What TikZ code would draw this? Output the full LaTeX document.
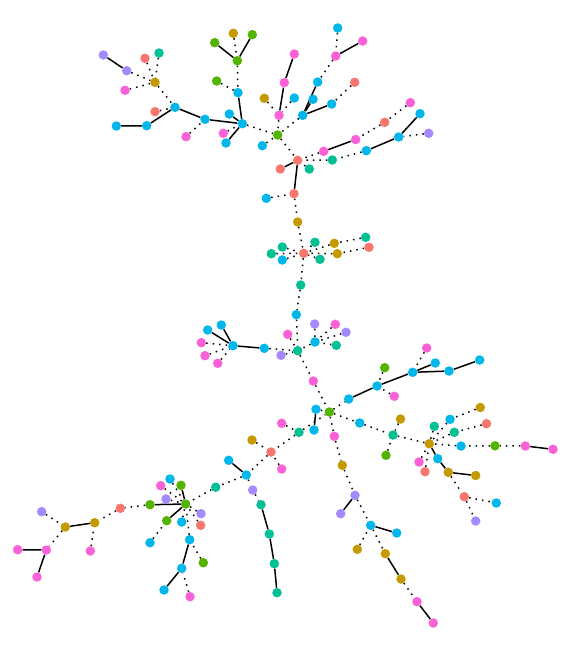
\documentclass[tikz,border=0pt]{standalone}
\usetikzlibrary{backgrounds}
\definecolor{salm}{HTML}{F8766D}
\definecolor{gold}{HTML}{C49A00}
\definecolor{gree}{HTML}{53B400}
\definecolor{teal}{HTML}{00C094}
\definecolor{blu}{HTML}{00B6EB}
\definecolor{purp}{HTML}{A58AFF}
\definecolor{pnk}{HTML}{FB61D7}
\tikzset{
  dot/.style={circle,inner sep=0pt,minimum size=9.5pt,draw=none},
  cSal/.style={dot,fill=salm},
  cGol/.style={dot,fill=gold},
  cGre/.style={dot,fill=gree},
  cTea/.style={dot,fill=teal},
  cBlu/.style={dot,fill=blu},
  cPur/.style={dot,fill=purp},
  cPin/.style={dot,fill=pnk},
  sol/.style={line width=1.5pt,black},
  dts/.style={line width=1.5pt,black,dash pattern=on 1.5pt off 5pt},
}
\begin{document}
\begin{tikzpicture}[x=1pt,y=-1pt]
\useasboundingbox (0,0) rectangle (573,645);
% top-left cluster
\node[cPur] (a1) at (103.3,55) {};
\node[cPur] (a2) at (126.7,70.7) {};
\node[cSal] (a3) at (145,58.3) {};
\node[cTea] (a4) at (159,53) {};
\node[cGol] (a5) at (155,82.3) {};
\node[cPin] (a6) at (125,90.3) {};
\node[cBlu] (a7) at (175,107.3) {};
\node[cSal] (a8) at (155,111.7) {};
\node[cBlu] (a9) at (146.7,125.7) {};
\node[cBlu] (a10) at (116.3,126) {};
\node[cBlu] (a11) at (205,119.3) {};
\node[cPin] (a12) at (186,136.7) {};
\node[cBlu] (a13) at (242.3,123.7) {};
\node[cBlu] (a14) at (229.3,114) {};
\node[cPin] (a15) at (223.3,133.3) {};
\node[cBlu] (a16) at (226,143) {};
\node[cBlu] (a17) at (238,92.7) {};
\node[cGre] (a18) at (216.7,81) {};
\node[cGre] (a19) at (237.3,60.7) {};
\node[cGre] (a20) at (214.7,42.7) {};
\node[cGre] (a21) at (252.3,34.7) {};
\node[cGol] (a22) at (233.3,33.3) {};
% top-middle
\node[cGre] (b1) at (277.7,135) {};
\node[cGol] (b2) at (264.3,98.3) {};
\node[cPin] (b3) at (279,115.3) {};
\node[cPin] (b4) at (284.3,82.7) {};
\node[cPin] (b5) at (294.3,54) {};
\node[cBlu] (b6) at (294.3,98) {};
\node[cBlu] (b7) at (262.3,145.7) {};
\node[cBlu] (b8) at (337.7,28) {};
\node[cPin] (b9) at (335.7,56) {};
\node[cPin] (b10) at (362.7,41) {};
\node[cBlu] (b11) at (317.7,82) {};
\node[cBlu] (b12) at (302.7,115.3) {};
\node[cBlu] (b13) at (313,99.3) {};
\node[cBlu] (b14) at (331.7,104) {};
\node[cSal] (b15) at (354.7,82.3) {};
% right arm top
\node[cSal] (c1) at (297.7,160.3) {};
\node[cPin] (c2) at (410.3,102.7) {};
\node[cSal] (c3) at (384.7,122.3) {};
\node[cPin] (c4) at (355.7,139.5) {};
\node[cPin] (c5) at (323.7,151.3) {};
\node[cBlu] (c6) at (420,113.7) {};
\node[cBlu] (c7) at (398.7,137) {};
\node[cPur] (c8) at (428.7,133.3) {};
\node[cBlu] (c9) at (366.3,150.7) {};
\node[cTea] (c10) at (332.3,160) {};
\node[cSal] (c11) at (280.3,169) {};
\node[cTea] (c12) at (309.3,169) {};
\node[cSal] (c13) at (294,193.7) {};
\node[cBlu] (c14) at (266.3,198.3) {};
% middle
\node[cGol] (d1) at (297.7,222) {};
\node[cSal] (d2) at (303.7,253.3) {};
\node[cTea] (d3) at (271.3,253.7) {};
\node[cTea] (d4) at (282.3,247) {};
\node[cBlu] (d5) at (282.3,260) {};
\node[cTea] (d6) at (315,242.3) {};
\node[cTea] (d7) at (320,259.3) {};
\node[cGol] (d8) at (334.3,243.3) {};
\node[cGol] (d9) at (337.3,253.7) {};
\node[cTea] (d10) at (365.7,237.3) {};
\node[cSal] (d11) at (369,247.3) {};
\node[cTea] (d12) at (300.7,285) {};
\node[cBlu] (e1) at (296.3,314.7) {};
\node[cTea] (e2) at (297.7,350.7) {};
\node[cPur] (e3) at (314.7,324) {};
\node[cBlu] (e4) at (315,342) {};
\node[cPin] (e5) at (335.3,324.3) {};
\node[cPur] (e6) at (346,332.3) {};
\node[cTea] (e7) at (336.3,345.3) {};
\node[cPin] (e8) at (287.7,334.3) {};
\node[cPur] (e9) at (281,355.3) {};
\node[cBlu] (e10) at (264.3,348.3) {};
\node[cBlu] (e11) at (233,345.7) {};
\node[cBlu] (e12) at (207.7,330) {};
\node[cBlu] (e13) at (221.3,325) {};
\node[cPin] (e14) at (201.3,342.7) {};
\node[cPin] (e15) at (205,355.7) {};
\node[cPin] (e16) at (217.7,363.3) {};
% lower centre
\node[cPin] (f1) at (313.3,381) {};
\node[cGre] (f2) at (329.3,412) {};
\node[cBlu] (f3) at (316,409.3) {};
\node[cBlu] (f4) at (314,430) {};
\node[cTea] (f5) at (299,432.3) {};
\node[cBlu] (f6) at (348.7,399) {};
\node[cBlu] (f7) at (377,386) {};
\node[cGre] (f8) at (384.7,367.7) {};
\node[cPin] (f9) at (394.3,396.3) {};
\node[cBlu] (f10) at (412.7,372.3) {};
\node[cPin] (f11) at (426.7,348) {};
\node[cBlu] (f12) at (435.3,363) {};
\node[cBlu] (f13) at (449,371) {};
\node[cBlu] (f14) at (479.7,360) {};
% lower right
\node[cBlu] (g1) at (359.7,423) {};
\node[cTea] (g2) at (393,435) {};
\node[cGol] (g3) at (400.5,419) {};
\node[cGre] (g4) at (386,455.3) {};
\node[cGol] (g5) at (429.3,443.7) {};
\node[cTea] (g6) at (434.3,426.3) {};
\node[cBlu] (g7) at (450,419.3) {};
\node[cGol] (g8) at (480.3,407.5) {};
\node[cTea] (g9) at (454.3,432.3) {};
\node[cSal] (g10) at (486.5,423.7) {};
\node[cBlu] (g11) at (461,446) {};
\node[cGre] (g12) at (495,445.8) {};
\node[cPin] (g13) at (525.3,446) {};
\node[cPin] (g14) at (553,449.3) {};
\node[cPin] (g15) at (419,462) {};
\node[cSal] (g16) at (425,471.7) {};
\node[cBlu] (g17) at (437.7,458.7) {};
\node[cGol] (g18) at (448.3,472.3) {};
\node[cGol] (g19) at (475.7,475.5) {};
\node[cSal] (g20) at (464.3,496.7) {};
\node[cBlu] (g21) at (496.3,503) {};
\node[cPur] (g22) at (475.7,521) {};
% lower middle branch
\node[cPin] (h1) at (334.3,436.3) {};
\node[cGol] (h2) at (342.3,465.3) {};
\node[cPur] (h3) at (355,495.3) {};
\node[cPur] (h4) at (340.7,513.7) {};
\node[cBlu] (h5) at (370.7,525.3) {};
\node[cBlu] (h6) at (396.7,533) {};
\node[cGol] (h7) at (357.3,549.3) {};
\node[cGol] (h8) at (385.3,553.7) {};
\node[cGol] (h9) at (401,579) {};
\node[cPin] (h10) at (417,601.7) {};
\node[cPin] (h11) at (433.3,623) {};
% lower left
\node[cPin] (i1) at (281.7,423.3) {};
\node[cSal] (i2) at (271,452) {};
\node[cGol] (i3) at (252,440) {};
\node[cPin] (i4) at (281.7,469) {};
\node[cBlu] (i5) at (246.3,475) {};
\node[cBlu] (i6) at (228.7,460.3) {};
\node[cPur] (i7) at (252.7,490) {};
\node[cTea] (i8) at (261,504.7) {};
\node[cTea] (i9) at (269.3,534) {};
\node[cTea] (i10) at (274.3,563.7) {};
\node[cTea] (i11) at (277,592.7) {};
\node[cTea] (i12) at (215.7,487.2) {};
\node[cGre] (j1) at (185.7,504) {};
\node[cGre] (j2) at (181,485.3) {};
\node[cBlu] (j3) at (170,479) {};
\node[cPin] (j4) at (160.7,485.7) {};
\node[cPur] (j5) at (166,499) {};
\node[cGre] (j6) at (150,504.7) {};
\node[cGre] (j7) at (166.7,520.7) {};
\node[cBlu] (j8) at (150,542.7) {};
\node[cBlu] (j9) at (181.7,522) {};
\node[cPur] (j10) at (201,513.7) {};
\node[cSal] (j11) at (200.7,525.3) {};
\node[cBlu] (j12) at (189.7,539.7) {};
\node[cGre] (j13) at (203.3,562.7) {};
\node[cBlu] (j14) at (181.7,568.3) {};
\node[cBlu] (j15) at (164,590) {};
\node[cPin] (j16) at (190,596.7) {};
\node[cSal] (k1) at (120.3,508.3) {};
\node[cGol] (k2) at (94.7,522.7) {};
\node[cPin] (k3) at (90.3,551) {};
\node[cGol] (k4) at (65.3,527) {};
\node[cPur] (k5) at (41.7,511.7) {};
\node[cPin] (k6) at (46.3,550) {};
\node[cPin] (k7) at (17.7,549.7) {};
\node[cPin] (k8) at (37,577) {};
\begin{pgfonlayer}{background}
\foreach \u/\v in {a1/a2,a7/a9,a9/a10,a7/a11,a11/a13,a14/a13,a16/a13,a17/a13,
  a20/a19,a21/a19,b5/b4,b4/b3,b10/b9,b11/b12,b13/b12,b14/b12,c4/c5,c6/c7,c7/c9,
  c1/c11,c1/c13,e11/e10,e12/e11,e13/e11,f3/f4,f6/f7,f7/f10,f12/f10,f13/f10,f14/f13,
  g13/g14,g17/g5,g17/g18,g18/g19,h3/h4,h5/h6,h8/h9,h10/h11,i6/i5,i8/i9,i9/i10,i10/i11,
  j2/j1,j6/j1,j7/j1,j12/j14,j14/j15,k2/k4,k6/k7,k6/k8}
  \draw[sol] (\u) -- (\v);
\foreach \u/\v in {a2/a5,a3/a5,a4/a5,a6/a5,a5/a7,a8/a7,a12/a11,a15/a13,a18/a17,a19/a17,
  a22/a19,a13/b1,b2/b3,b6/b3,b3/b1,b8/b9,b9/b11,b15/b14,b12/b1,b7/b1,b1/c1,
  c2/c3,c3/c4,c5/c1,c8/c7,c9/c10,c10/c1,c12/c1,c14/c13,c13/d1,d1/d2,
  d3/d2,d4/d2,d5/d2,d6/d2,d7/d2,d8/d2,d9/d2,d10/d8,d11/d9,d2/d12,d12/e1,e1/e2,
  e3/e4,e5/e4,e6/e4,e7/e4,e4/e2,e8/e2,e9/e2,e10/e2,e14/e11,e15/e11,e16/e11,
  e2/f1,f1/f2,f3/f2,f5/f2,f2/f6,f8/f7,f9/f7,f11/f10,
  f2/g1,g1/g2,g3/g2,g4/g2,g2/g5,g6/g5,g7/g5,g8/g7,g9/g5,g10/g9,g11/g5,g12/g11,g13/g12,
  g15/g5,g16/g5,g18/g20,g20/g21,g20/g22,
  f2/h1,h1/h2,h2/h3,h3/h5,h7/h5,h5/h8,h9/h10,
  i1/f5,f5/i2,i3/i2,i4/i2,i2/i5,i5/i7,i7/i8,i5/i12,i12/j1,
  j3/j1,j4/j1,j5/j1,j8/j7,j9/j1,j10/j1,j11/j1,j12/j1,j13/j12,j16/j14,
  j6/k1,k1/k2,k3/k2,k5/k4,k4/k6}
  \draw[dts] (\u) -- (\v);
\end{pgfonlayer}
\end{tikzpicture}
\end{document}
